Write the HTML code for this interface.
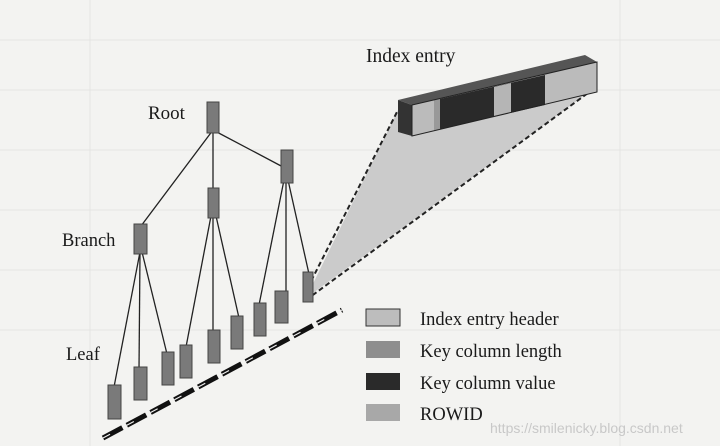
<!DOCTYPE html>
<html><head><meta charset="utf-8"><style>
html,body{margin:0;padding:0;background:#f3f3f1;}
svg{display:block}
text{font-family:"Liberation Serif",serif;fill:#1a1a1a}
</style></head><body>
<svg width="720" height="446" viewBox="0 0 720 446">
<rect width="720" height="446" fill="#f3f3f1"/>
<g stroke="#e4e4e2" stroke-width="1">
<line x1="0" y1="40" x2="720" y2="40"/><line x1="0" y1="90" x2="720" y2="90"/>
<line x1="0" y1="150" x2="720" y2="150"/><line x1="0" y1="210" x2="720" y2="210"/>
<line x1="0" y1="270" x2="720" y2="270"/><line x1="0" y1="330" x2="720" y2="330"/>
<line x1="90" y1="0" x2="90" y2="446"/><line x1="620" y1="0" x2="620" y2="446"/>
</g>
<polygon points="306,298 398,110 592,90" fill="#cbcbcb"/>
<g stroke="#222" stroke-width="2" stroke-dasharray="5,3" fill="none">
<line x1="304" y1="295" x2="398" y2="110"/><line x1="306" y1="300" x2="592" y2="90"/>
</g>
<g stroke="#222" stroke-width="1.3">
<line x1="213" y1="130" x2="141" y2="226"/><line x1="213" y1="130" x2="213" y2="190"/><line x1="213" y1="130" x2="283" y2="167"/>
<line x1="140" y1="252" x2="114" y2="387"/><line x1="140" y1="252" x2="139" y2="370"/><line x1="142" y1="252" x2="167" y2="354"/>
<line x1="211" y1="216" x2="186" y2="347"/><line x1="213" y1="216" x2="213" y2="332"/><line x1="216" y1="216" x2="239" y2="318"/>
<line x1="284" y1="180" x2="259" y2="305"/><line x1="286" y1="180" x2="286" y2="292"/><line x1="288" y1="180" x2="309" y2="274"/>
</g>
<g fill="#7a7a7a" stroke="#444" stroke-width="1">
<rect x="207" y="102" width="12" height="31"/>
<rect x="134" y="224" width="13" height="30"/>
<rect x="208" y="188" width="11" height="30"/>
<rect x="281" y="150" width="12" height="33"/>
<rect x="108" y="385" width="13" height="34"/>
<rect x="134" y="367" width="13" height="33"/>
<rect x="162" y="352" width="12" height="33"/>
<rect x="180" y="345" width="12" height="33"/>
<rect x="208" y="330" width="12" height="33"/>
<rect x="231" y="316" width="12" height="33"/>
<rect x="254" y="303" width="12" height="33"/>
<rect x="275" y="291" width="13" height="32"/>
<rect x="303" y="272" width="10" height="30"/>
</g>
<line x1="103" y1="438" x2="342" y2="310" stroke="#111" stroke-width="5" stroke-dasharray="22,5"/>
<line x1="103" y1="438" x2="342" y2="310" stroke="#eee" stroke-width="1.2" stroke-dasharray="8,19"/>
<polygon points="398,100 412,105 597,62 585,55" fill="#555"/>
<polygon points="398,100 412,105 412,136 398,132" fill="#333"/>
<polygon points="412,105 597,62 597,92 412,136" fill="#bbb"/>
<polygon points="440,99 545,75 545,105 440,129" fill="#2a2a2a"/>
<polygon points="494,87 511,83 511,113 494,117" fill="#b5b5b5"/>
<polygon points="434,100 440,99 440,129 434,131" fill="#999"/>
<polygon points="412,105 597,62 597,92 412,136" fill="none" stroke="#222" stroke-width="1"/>
<text x="148" y="119" font-size="19">Root</text>
<text x="62" y="246" font-size="18.5">Branch</text>
<text x="66" y="360" font-size="18.5">Leaf</text>
<text x="366" y="62" font-size="19.5">Index entry</text>
<rect x="366" y="309" width="34" height="17" fill="#bdbdbd" stroke="#333"/>
<rect x="366" y="341" width="34" height="17" fill="#8e8e8e"/>
<rect x="366" y="373" width="34" height="17" fill="#2a2a2a"/>
<rect x="366" y="404" width="34" height="17" fill="#a8a8a8"/>
<text x="420" y="325" font-size="18.5">Index entry header</text>
<text x="420" y="357" font-size="18.5">Key column length</text>
<text x="420" y="389" font-size="18.5">Key column value</text>
<text x="420" y="420" font-size="18.5">ROWID</text>
<text x="490" y="433" font-size="14" style="font-family:'Liberation Sans',sans-serif;fill:#c8c8c8">https://smilenicky.blog.csdn.net</text>
</svg>
</body></html>
